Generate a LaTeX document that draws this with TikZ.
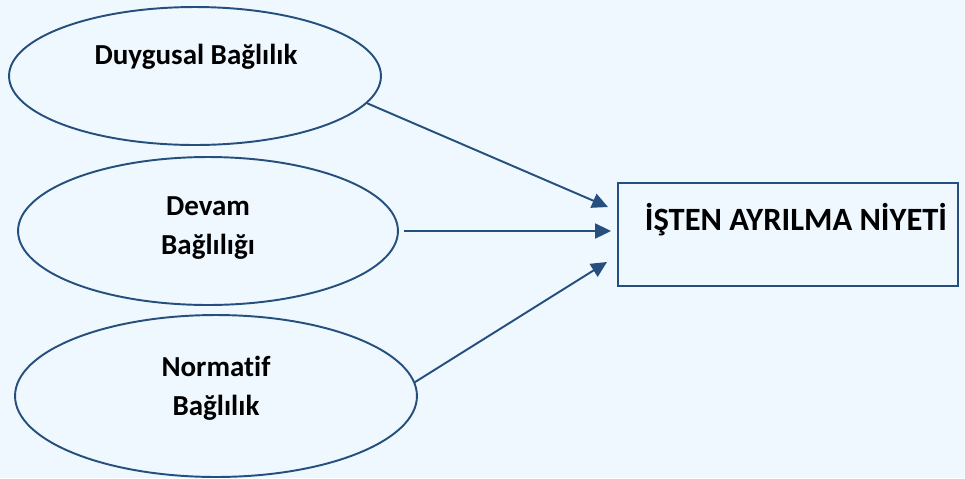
\documentclass[tikz,border=0pt]{standalone}
\usepackage{fontspec}
\setmainfont{Carlito}[Ligatures=NoCommon]
\usetikzlibrary{calc,backgrounds,arrows.meta,shapes.geometric,positioning}
\definecolor{fond}{RGB}{239,248,255}
\definecolor{trait}{RGB}{37,79,124}

\begin{document}
\begin{tikzpicture}[x=0.02cm,y=-0.02cm]
%
% Styles
%
\tikzset{every node/.style={font=\fontsize{16.5}{22}\selectfont\bfseries, text=black}};%
\tikzset{fleche/.style={trait, line width=1.1pt, -{Triangle[length=9pt,width=8.5pt]}}};%
\tikzset{bulle/.style={ellipse, draw=trait, line width=1.1pt, inner sep=0pt}};%
\tikzset{boite/.style={rectangle, draw=trait, line width=1.1pt, inner sep=0pt}};%
\tikzset{etiquette/.style={align=center}};%
\tikzset{titre/.style={font=\fontsize{18.5}{22}\selectfont\bfseries}};%

%
% Background
%
\fill[fond] (0,0) rectangle (965,478);%
\useasboundingbox (0,0) rectangle (965,478);%

%
% Ellipses and box
%
\node[bulle, minimum width=7.44cm, minimum height=2.76cm] (duygusal) at (195,76) {};%
\node[bulle, minimum width=7.6cm, minimum height=2.96cm] (devam) at (208,231) {};%
\node[bulle, minimum width=8.04cm, minimum height=3.24cm] (normatif) at (216,396) {};%
\node[boite, minimum width=6.8cm, minimum height=2.06cm] (isten) at (788,234.5) {};%

% Texts
\node[etiquette] (duygusal texte) at (196,57) {Duygusal Bağlılık};%
\node[etiquette] (devam texte) at (208,228) {Devam\\Bağlılığı};%
\node[etiquette] (normatif texte) at (216,388) {Normatif\\Bağlılık};%
\node[etiquette, titre] (isten texte) at (796,220) {İŞTEN AYRILMA NİYETİ};%

% Arrows end just before the box
\coordinate (bout1) at (608,207);%
\coordinate (bout2) at (devam.east -| 611,0);%
\coordinate (bout3) at (607,262);%

\draw[fleche] (duygusal.-9) -- (bout1);%
\draw[fleche, shorten <=2.8pt] (devam.east) -- (bout2);%
\draw[fleche] (normatif.4) -- (bout3);%
\end{tikzpicture}
\end{document}
